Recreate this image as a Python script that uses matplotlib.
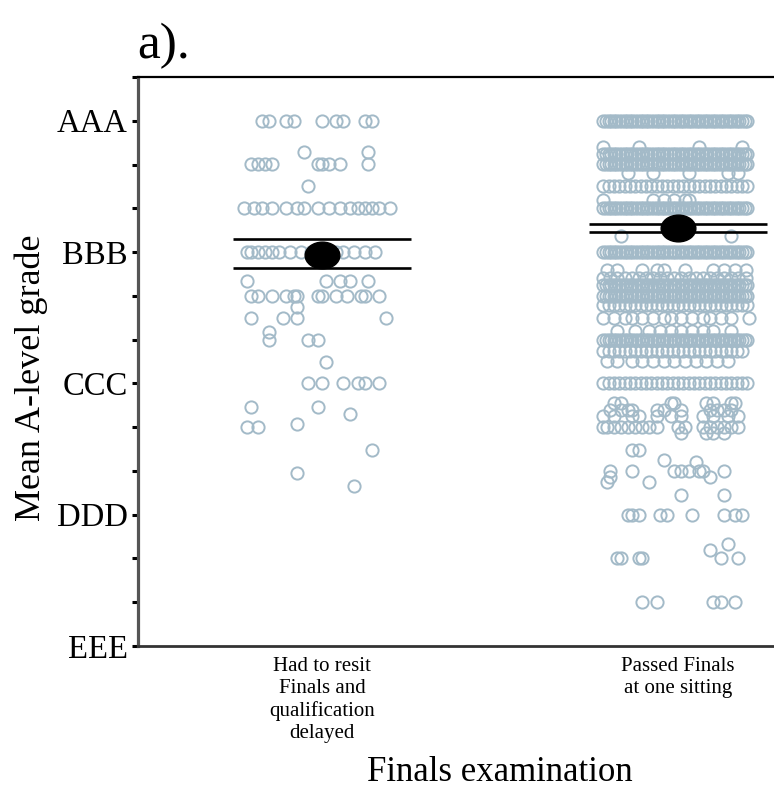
import numpy as np
import matplotlib.pyplot as plt
from matplotlib.path import Path

plt.rcParams["font.family"] = ["Liberation Serif", "DejaVu Serif"]

# ---------------------------------------------------------------
# data (grade scale: EEE=0 ... AAA=4, one A-level grade step = 1/3)
# ---------------------------------------------------------------
GRADE_TICKS = [0, 1, 2, 3, 4]
GRADE_LABELS = ["EEE", "DDD", "CCC", "BBB", "AAA"]
CATEGORIES = ["Had to resit\nFinals and\nqualification\ndelayed",
              "Passed Finals\nat one sitting"]

MEANS = [2.98, 3.18]
CI_LOW = [2.88, 3.15]
CI_HIGH = [3.10, 3.21]

# horizontal jitter (fraction of category spacing)
# rows so crowded that the circles merge into a solid band
DENSE_ROW = [-0.210, -0.203, -0.195, -0.188, -0.180, -0.173, -0.165, -0.158,
             -0.150, -0.143, -0.135, -0.128, -0.120, -0.113, -0.105, -0.098,
             -0.090, -0.083, -0.075, -0.068, -0.060, -0.053, -0.045, -0.038,
             -0.030, -0.023, -0.015, -0.008, 0.000, 0.008, 0.015, 0.023,
             0.030, 0.038, 0.045, 0.053, 0.060, 0.068, 0.075, 0.083, 0.090,
             0.098, 0.105, 0.113, 0.120, 0.128, 0.135, 0.143, 0.150, 0.158,
             0.165, 0.173, 0.180, 0.188, 0.195]
MID_ROW = [-0.21, -0.195, -0.18, -0.165, -0.15, -0.135, -0.12, -0.105,
           -0.09, -0.075, -0.06, -0.045, -0.03, -0.015, 0.0, 0.015, 0.03,
           0.045, 0.06, 0.075, 0.09, 0.105, 0.12, 0.135, 0.15, 0.165,
           0.18, 0.195]
HALF_ROW = [-0.21, -0.19, -0.17, -0.15, -0.13, -0.11, -0.09, -0.07, -0.05,
            -0.03, -0.01, 0.01, 0.03, 0.05, 0.07, 0.09, 0.11, 0.13, 0.15,
            0.17, 0.19]

RESIT_ROWS = [
    (4.0, [-0.17, -0.15, -0.10, -0.08, 0.00, 0.04, 0.06, 0.12, 0.14]),
    (3.76, [-0.05, 0.13]),
    (3.667, [-0.20, -0.18, -0.16, -0.14, -0.01, 0.00, 0.02, 0.05, 0.13]),
    (3.5, [-0.04]),
    (3.333, [-0.22, -0.19, -0.17, -0.14, -0.10, -0.07, -0.05, -0.01, 0.02,
             0.05, 0.08, 0.10, 0.12, 0.14, 0.16, 0.19]),
    (3.0, [-0.21, -0.20, -0.18, -0.16, -0.14, -0.12, -0.09, -0.06, -0.03,
           0.04, 0.06, 0.09, 0.12, 0.15]),
    (2.78, [-0.21, 0.01, 0.05, 0.08, 0.13]),
    (2.667, [-0.20, -0.18, -0.14, -0.10, -0.08, -0.07, -0.01, 0.00, 0.04,
             0.07, 0.11, 0.12, 0.16]),
    (2.58, [-0.07]),
    (2.5, [-0.20, -0.11, -0.07, 0.18]),
    (2.39, [-0.15]),
    (2.333, [-0.15, -0.04, -0.01]),
    (2.16, [0.01]),
    (2.0, [-0.04, 0.00, 0.06, 0.10, 0.12, 0.16]),
    (1.82, [-0.20, -0.01]),
    (1.77, [0.08]),
    (1.69, [-0.07]),
    (1.667, [-0.21, -0.18]),
    (1.49, [0.14]),
    (1.32, [-0.07]),
    (1.22, [0.09]),
]

PASSED_ROWS = [
    (4.0, DENSE_ROW),
    (3.8, [-0.21, -0.11, 0.06, 0.18]),
    (3.75, DENSE_ROW),
    (3.667, DENSE_ROW),
    (3.6, [-0.14, -0.07, 0.03, 0.14, 0.17]),
    (3.5, MID_ROW),
    (3.4, [-0.21, -0.07, -0.04, -0.01, 0.02, 0.03]),
    (3.333, DENSE_ROW),
    (3.12, [-0.16, 0.15]),
    (3.0, DENSE_ROW),
    (2.86, [-0.20, -0.17, -0.10, -0.06, -0.04, 0.02, 0.10, 0.13, 0.16, 0.19]),
    (2.8, HALF_ROW),
    (2.75, DENSE_ROW),
    (2.667, DENSE_ROW),
    (2.6, MID_ROW),
    (2.5, [-0.21, -0.18, -0.15, -0.13, -0.10, -0.07, -0.04, -0.02, 0.01,
           0.04, 0.07, 0.09, 0.12, 0.15, 0.20]),
    (2.4, [-0.17, -0.12, -0.08, -0.05, -0.02, 0.01, 0.04, 0.07, 0.10, 0.15]),
    (2.333, DENSE_ROW),
    (2.25, MID_ROW[:-1]),
    (2.17, [-0.20, -0.17, -0.13, -0.10, -0.07, -0.04, -0.01, 0.02, 0.05,
            0.08, 0.11, 0.14]),
    (2.0, MID_ROW),
    (1.85, [-0.18, -0.16, -0.02, -0.01, 0.08, 0.10, 0.15, 0.16]),
    (1.8, [-0.19, -0.16, -0.14, -0.13, -0.06, -0.04, 0.01, 0.09, 0.11,
           0.13, 0.15]),
    (1.75, [-0.21, -0.18, -0.13, -0.11, -0.06, -0.02, 0.01, 0.07, 0.10,
            0.14, 0.17]),
    (1.667, [-0.21, -0.20, -0.18, -0.16, -0.14, -0.12, -0.10, -0.08, -0.06,
             0.00, 0.02, 0.07, 0.09, 0.11, 0.13, 0.15, 0.17]),
    (1.62, [0.01, 0.08, 0.10, 0.13]),
    (1.49, [-0.13, -0.11]),
    (1.42, [-0.04]),
    (1.4, [0.05]),
    (1.333, [-0.19, -0.13, -0.01, 0.01, 0.03, 0.06, 0.07, 0.13]),
    (1.29, [-0.19, 0.09]),
    (1.25, [-0.20, -0.08]),
    (1.15, [0.01, 0.13]),
    (1.0, [-0.14, -0.13, -0.11, -0.05, -0.03, 0.04, 0.13, 0.16, 0.18]),
    (0.78, [0.14]),
    (0.73, [0.09]),
    (0.667, [-0.17, -0.16, -0.11, -0.10, 0.12, 0.17]),
    (0.333, [-0.10, -0.06, 0.10, 0.12, 0.16]),
]

# ---------------------------------------------------------------
# figure
# ---------------------------------------------------------------
fig = plt.figure(figsize=(7.74, 7.91), dpi=100)
ax = fig.add_axes([0.1783, 0.1833, 0.8217, 0.7194])

circle_col = "#a3bac8"
for pos, rows in enumerate([RESIT_ROWS, PASSED_ROWS]):
    xs, ys = [], []
    for grade, offs in rows:
        xs.extend(pos + o for o in offs)
        ys.extend([grade] * len(offs))
    ax.plot(xs, ys, linestyle="none", marker="o", markersize=8.8,
            markerfacecolor="none", markeredgecolor=circle_col,
            markeredgewidth=1.4, zorder=2)

# means with interval lines
circ = Path.unit_circle()
ellipse = Path(circ.vertices * np.array([1.0, 0.77]), circ.codes)
for pos in range(2):
    ax.hlines([CI_LOW[pos], CI_HIGH[pos]], pos - 0.25, pos + 0.25,
              colors="black", linewidth=1.9, zorder=3)
    ax.plot(pos, MEANS[pos], linestyle="none", marker=ellipse,
            markersize=25, color="black", zorder=4)

ax.set_xlim(-0.517, 1.27)
ax.set_ylim(0, 13 / 3)

ax.set_yticks(GRADE_TICKS)
ax.set_yticklabels(GRADE_LABELS, fontsize=23.5)
ax.set_yticks([1 / 3, 2 / 3, 4 / 3, 5 / 3, 7 / 3, 8 / 3, 10 / 3, 11 / 3, 13 / 3],
              minor=True)
ax.tick_params(axis="y", which="both", direction="out", length=4.5,
               width=2.2, color="black", pad=3)

ax.set_xticks([0, 1])
ax.set_xticklabels(CATEGORIES, fontsize=15, linespacing=1.22)
ax.tick_params(axis="x", length=0, pad=8)

ax.spines["right"].set_visible(False)
ax.spines["left"].set_color("#555555")
ax.spines["left"].set_linewidth(2.3)
ax.spines["top"].set_linewidth(1.6)
ax.spines["bottom"].set_color("#333333")
ax.spines["bottom"].set_linewidth(2.0)

fig.text(0.040, 0.522, "Mean A-level grade", rotation=90, fontsize=26,
         ha="center", va="center")
fig.text(0.646, 0.0126, "Finals examination", fontsize=25,
         ha="center", va="baseline")
fig.text(137 / 774, 1 - 58 / 791, "a).", fontsize=37, ha="left",
         va="baseline")

fig.savefig("out.png", dpi=100)
